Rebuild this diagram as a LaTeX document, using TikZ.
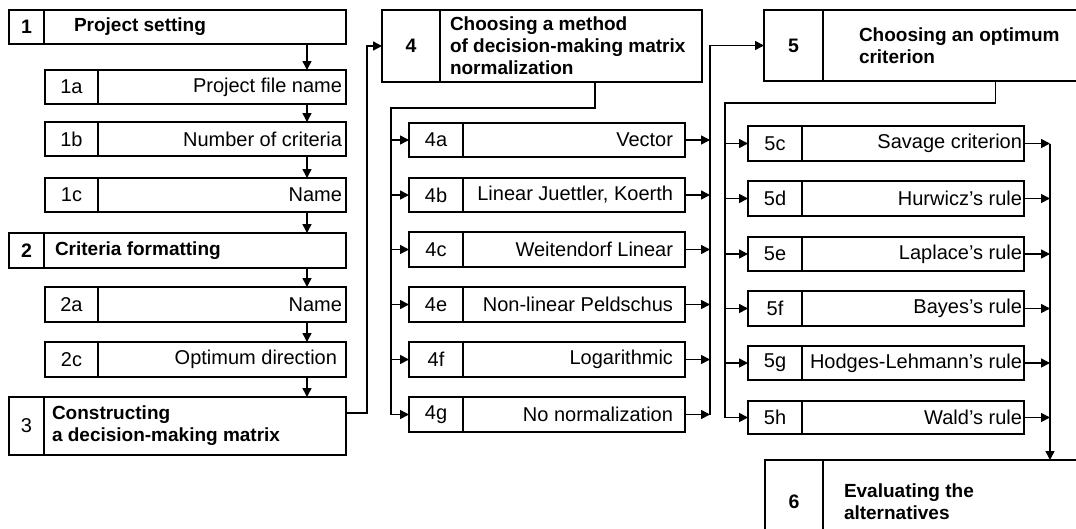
\documentclass[tikz,border=0pt]{standalone}
\usepackage{fontspec}
\setmainfont{Liberation Sans}
\usetikzlibrary{positioning,arrows.meta}

\tikzset{
  box/.style={draw,line width=1.6pt,inner ysep=0pt,outer sep=0pt},
  num/.style={box,inner xsep=0pt,font=\fontsize{20}{22}\selectfont},
  bnum/.style={box,inner xsep=0pt,font=\bfseries\fontsize{19.5}{22}\selectfont},
  subtext/.style={box,align=flush right,font=\fontsize{20}{22}\selectfont},
  headtext/.style={box,align=flush left,font=\bfseries\fontsize{19}{22}\selectfont},
  arr/.style={line width=1.6pt,-{Triangle[length=9pt,width=9pt]}},
  bus/.style={line width=1.6pt}
}

\begin{document}
\begin{tikzpicture}[x=1pt,y=-1pt]
        \clip (0,0) rectangle (1076,528);

        % column 1
        \node[bnum,minimum width=35pt,minimum height=34pt,anchor=north west] (n1) at (9,10) {1};
        \node[headtext,minimum height=34pt,text width=242pt,inner xsep=30pt,right=0pt of n1] (b1) {Project setting};

        \node[num,minimum width=53pt,minimum height=34pt,anchor=north west] (n1a) at (45,70) {1a};
        \node[subtext,minimum height=34pt,text width=240pt,inner xsep=4pt,right=0pt of n1a] (b1a) {Project file name};
        \node[num,minimum width=53pt,minimum height=34pt,anchor=north west] (n1b) at (45,122) {1b};
        \node[subtext,minimum height=34pt,text width=240pt,inner xsep=4pt,right=0pt of n1b] (b1b) {Number of criteria};
        \node[num,minimum width=53pt,minimum height=34pt,anchor=north west] (n1c) at (45,178) {1c};
        \node[subtext,minimum height=34pt,text width=240pt,inner xsep=4pt,right=0pt of n1c] (b1c) {Name};

        \node[bnum,minimum width=35pt,minimum height=35pt,anchor=north west] (n2) at (9,233) {2};
        \node[headtext,minimum height=35pt,text width=280pt,inner xsep=11pt,right=0pt of n2] (b2) {Criteria formatting};

        \node[num,minimum width=53pt,minimum height=35pt,anchor=north west] (n2a) at (45,287) {2a};
        \node[subtext,minimum height=35pt,text width=240pt,inner xsep=4pt,right=0pt of n2a] (b2a) {Name};
        \node[num,minimum width=53pt,minimum height=35pt,anchor=north west] (n2c) at (45,342) {2c};
        \node[subtext,minimum height=35pt,text width=230pt,inner xsep=9pt,right=0pt of n2c] (b2c) {Optimum direction};

        \node[num,minimum width=35pt,minimum height=58pt,anchor=north west] (n3) at (9,397) {3};
        \node[headtext,minimum height=58pt,text width=286pt,inner xsep=8pt,right=0pt of n3] (b3) {Constructing\\a decision-making matrix};

        \draw[arr] ([xshift=-39pt]b1.south east) -- ([xshift=-39pt]b1a.north east);
        \draw[arr] ([xshift=-39pt]b1a.south east) -- ([xshift=-39pt]b1b.north east);
        \draw[arr] ([xshift=-39pt]b1b.south east) -- ([xshift=-39pt]b1c.north east);
        \draw[arr] ([xshift=-39pt]b1c.south east) -- ([xshift=-39pt]b2.north east);
        \draw[arr] ([xshift=-39pt]b2.south east) -- ([xshift=-39pt]b2a.north east);
        \draw[arr] ([xshift=-39pt]b2a.south east) -- ([xshift=-39pt]b2c.north east);
        \draw[arr] ([xshift=-39pt]b2c.south east) -- ([xshift=-39pt]b3.north east);

        % column 2
        \node[bnum,minimum width=58pt,minimum height=72pt,anchor=north west] (n4) at (382,10) {4};
        \node[headtext,minimum height=72pt,text width=242pt,inner xsep=10pt,right=0pt of n4] (b4) {Choosing a method\\of decision-making matrix\\normalization};

        \draw[arr] ([yshift=13pt]b3.east) -- ++(21,0) |- (n4.west);

        \node[num,minimum width=54pt,minimum height=34pt,anchor=north west] (n4a) at (409,123) {4a};
        \node[subtext,minimum height=34pt,text width=198pt,inner xsep=12pt,right=0pt of n4a] (b4a) {Vector};
        \node[num,minimum width=54pt,minimum height=34pt,anchor=north west] (n4b) at (409,178) {4b};
        \node[subtext,minimum height=34pt,text width=198pt,inner xsep=12pt,right=0pt of n4b] (b4b) {Linear Juettler, Koerth};
        \node[num,minimum width=54pt,minimum height=35pt,anchor=north west] (n4c) at (409,232) {4c};
        \node[subtext,minimum height=35pt,text width=198pt,inner xsep=12pt,right=0pt of n4c] (b4c) {Weitendorf Linear};
        \node[num,minimum width=54pt,minimum height=35pt,anchor=north west] (n4e) at (409,287) {4e};
        \node[subtext,minimum height=35pt,text width=198pt,inner xsep=12pt,right=0pt of n4e] (b4e) {Non-linear Peldschus};
        \node[num,minimum width=54pt,minimum height=35pt,anchor=north west] (n4f) at (409,342) {4f};
        \node[subtext,minimum height=35pt,text width=198pt,inner xsep=12pt,right=0pt of n4f] (b4f) {Logarithmic};
        \node[num,minimum width=54pt,minimum height=35pt,anchor=north west] (n4g) at (409,397) {4g};
        \node[subtext,minimum height=35pt,text width=198pt,inner xsep=12pt,right=0pt of n4g] (b4g) {No normalization};

        \coordinate (l4) at ([xshift=-18pt]n4g.west);
        \coordinate (r4) at ([xshift=25pt]b4g.east);

        \draw[arr] ([xshift=24pt]b4.south) -- ++(0,26) -| (l4) -- (n4g.west);
        \draw[arr] (l4 |- n4a.west) -- (n4a.west);
        \draw[arr] (l4 |- n4b.west) -- (n4b.west);
        \draw[arr] (l4 |- n4c.west) -- (n4c.west);
        \draw[arr] (l4 |- n4e.west) -- (n4e.west);
        \draw[arr] (l4 |- n4f.west) -- (n4f.west);

        \draw[arr] (b4a.east) -- (b4a.east -| r4);
        \draw[arr] (b4b.east) -- (b4b.east -| r4);
        \draw[arr] (b4c.east) -- (b4c.east -| r4);
        \draw[arr] (b4e.east) -- (b4e.east -| r4);
        \draw[arr] (b4f.east) -- (b4f.east -| r4);
        \draw[arr] (b4g.east) -- (r4);

        % column 3
        \node[bnum,minimum width=59pt,minimum height=71pt,anchor=north west] (n5) at (764,10) {5};
        \node[headtext,minimum height=71pt,text width=225pt,inner xsep=36pt,right=0pt of n5] (b5) {Choosing an optimum\\criterion};

        \draw[arr] (r4) |- (n5.west);

        \node[num,minimum width=54pt,minimum height=35pt,anchor=north west] (n5c) at (748,126) {5c};
        \node[subtext,minimum height=35pt,text width=218pt,inner xsep=2pt,right=0pt of n5c] (b5c) {Savage criterion};
        \node[num,minimum width=54pt,minimum height=35pt,anchor=north west] (n5d) at (748,181) {5d};
        \node[subtext,minimum height=35pt,text width=218pt,inner xsep=2pt,right=0pt of n5d] (b5d) {Hurwicz's rule};
        \node[num,minimum width=54pt,minimum height=34pt,anchor=north west] (n5e) at (748,237) {5e};
        \node[subtext,minimum height=34pt,text width=218pt,inner xsep=2pt,right=0pt of n5e] (b5e) {Laplace's rule};
        \node[num,minimum width=54pt,minimum height=35pt,anchor=north west] (n5f) at (748,291) {5f};
        \node[subtext,minimum height=35pt,text width=218pt,inner xsep=2pt,right=0pt of n5f] (b5f) {Bayes's rule};
        \node[num,minimum width=54pt,minimum height=34pt,anchor=north west] (n5g) at (748,346) {5g};
        \node[subtext,minimum height=34pt,text width=218pt,inner xsep=2pt,right=0pt of n5g] (b5g) {Hodges-Lehmann's rule};
        \node[num,minimum width=54pt,minimum height=33pt,anchor=north west] (n5h) at (748,401) {5h};
        \node[subtext,minimum height=33pt,text width=218pt,inner xsep=2pt,right=0pt of n5h] (b5h) {Wald's rule};

        \node[bnum,minimum width=58pt,minimum height=84pt,anchor=north west] (n6) at (765,460) {6};
        \node[headtext,minimum height=84pt,text width=255pt,inner xsep=21pt,right=0pt of n6] (b6) {Evaluating the\\alternatives};

        \coordinate (l5) at ([xshift=-23pt]n5h.west);
        \coordinate (r5) at ([xshift=26pt]b5c.east);

        \draw[arr] ([xshift=24pt]b5.south) -- ++(0,22) -| (l5) -- (n5h.west);
        \draw[arr] (l5 |- n5c.west) -- (n5c.west);
        \draw[arr] (l5 |- n5d.west) -- (n5d.west);
        \draw[arr] (l5 |- n5e.west) -- (n5e.west);
        \draw[arr] (l5 |- n5f.west) -- (n5f.west);
        \draw[arr] (l5 |- n5g.west) -- (n5g.west);

        \draw[arr] (b5c.east) -- (r5);
        \draw[arr] (b5d.east) -- (b5d.east -| r5);
        \draw[arr] (b5e.east) -- (b5e.east -| r5);
        \draw[arr] (b5f.east) -- (b5f.east -| r5);
        \draw[arr] (b5g.east) -- (b5g.east -| r5);
        \draw[arr] (b5h.east) -- (b5h.east -| r5);
        \draw[arr] (r5) -- (r5 |- b6.north);
    \end{tikzpicture}
\end{document}
